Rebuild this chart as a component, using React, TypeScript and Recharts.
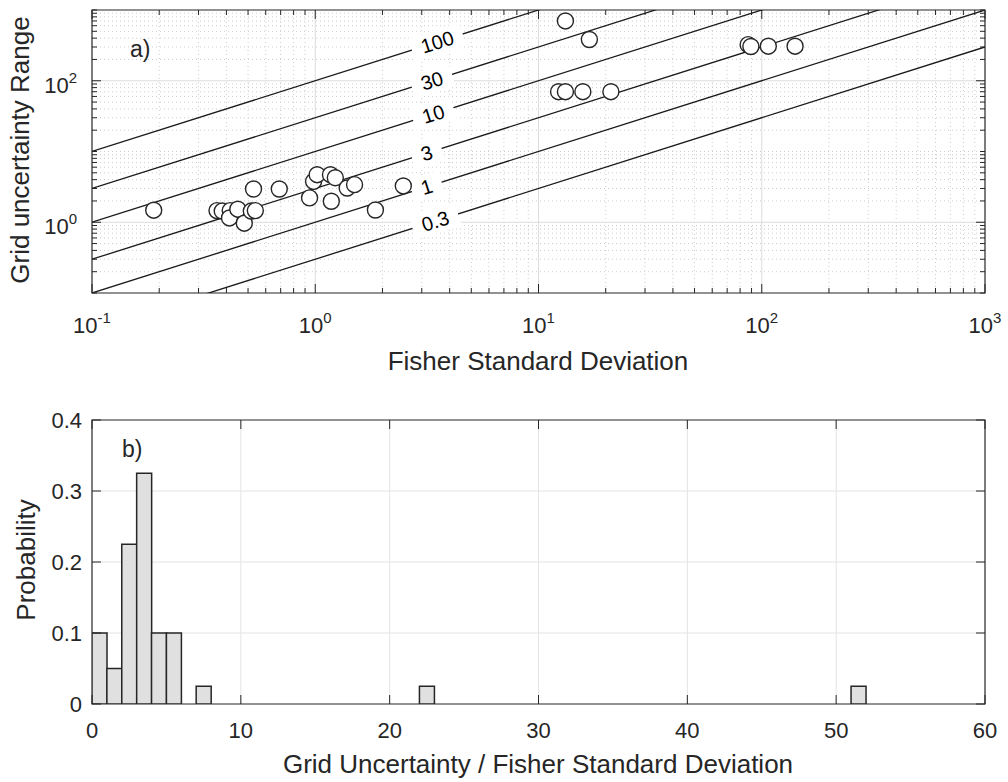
import React from 'react';
import {
  ScatterChart, Scatter, BarChart, Bar, XAxis, YAxis, CartesianGrid, ReferenceLine, ReferenceArea,
} from 'recharts';

// a) Fisher standard deviation vs grid uncertainty range (one entry per site)
const fisherSd = [0.189, 0.363, 0.383, 0.416, 0.413, 0.45, 0.481, 0.517, 0.539, 0.529, 0.69,
  0.943, 0.983, 1.02, 1.17, 1.23, 1.18, 1.39, 1.5, 1.86, 2.48,
  12.3, 13.2, 15.8, 21.1, 13.2, 16.9, 86.9, 89.4, 107, 141];
const gridRange = [1.48, 1.46, 1.44, 1.46, 1.15, 1.53, 0.97, 1.44, 1.46, 2.95, 2.95,
  2.21, 3.78, 4.7, 4.7, 4.26, 1.98, 3.05, 3.4, 1.49, 3.26,
  70, 70, 70, 70, 700, 383, 324, 305, 308, 308];

// ratio lines (range = k * sd) and where their labels sit along x
const ratioLevels = [100, 30, 10, 3, 1, 0.3];
const ratioLabels = ['100', '30', '10', '3', '1', '0.3'];
const ratioLabelAt = [3.52, 3.33, 3.38, 3.16, 3.16, 3.45];

const logDecades = [0.1, 1, 10, 100, 1000];
const logExponents = ['-1', '0', '1', '2', '3'];
const yLabelled = [1, 100];
const minorMult = [2, 3, 4, 5, 6, 7, 8, 9];

// b) histogram of range / sd
const binCenters = [0.5, 1.5, 2.5, 3.5, 4.5, 5.5, 7.5, 22.5, 51.5];
const probability = [0.1, 0.05, 0.225, 0.325, 0.1, 0.1, 0.025, 0.025, 0.025];
const ratioTicks = [0, 10, 20, 30, 40, 50, 60];
const probTicks = [0, 0.1, 0.2, 0.3, 0.4];

const FONT = '"Liberation Sans", Arial, Helvetica, sans-serif';
const AXIS = '#262626';
const LABEL_ANGLE = -17.58;

// plot box edges in chart pixels
const LEFT = 92;
const RIGHT = 985;
const A_TOP = 10;
const A_BOTTOM = 293;
const B_TOP = 45;
const B_BOTTOM = 329;

const logTicks: number[] = [];
logDecades.forEach((d, i) => {
  logTicks.push(d);
  if (i < logDecades.length - 1) minorMult.forEach(m => logTicks.push(m * d));
});
const isDecade = (v: number) => Math.abs(Math.log10(v) - Math.round(Math.log10(v))) < 1e-6;
const expOf = (v: number) => logExponents[logDecades.findIndex(d => Math.abs(d - v) / d < 1e-6)];

const xMajorGrid = [1, 10, 100];
const yMajorGrid = [1, 100];
const xMinorGrid = logTicks.filter(v => !isDecade(v));
const yMinorGrid = logTicks.filter(v => v > 0.1 && v < 1000 && !yMajorGrid.includes(v));

const scatterData = fisherSd.map((x, i) => ({ x, y: gridRange[i] }));
const labelData = ratioLevels.map((k, i) => ({ x: ratioLabelAt[i], y: k * ratioLabelAt[i], label: ratioLabels[i] }));
const histData = binCenters.map((c, i) => ({ center: c, prob: probability[i] }));

const FisherTick = (p: any) => {
  const x = p.x;
  const v = p.payload.value;
  const major = isDecade(v);
  const len = major ? 9 : 5;
  return (
    <g>
      <line x1={x} x2={x} y1={A_BOTTOM} y2={A_BOTTOM - len} stroke={AXIS} />
      <line x1={x} x2={x} y1={A_TOP} y2={A_TOP + len} stroke={AXIS} />
      {major && (
        <text x={x} y={333} textAnchor="middle" fontSize={22} fill={AXIS} fontFamily={FONT}>
          10<tspan dy={-10} fontSize={15}>{expOf(v)}</tspan>
        </text>
      )}
    </g>
  );
};

const RangeTick = (p: any) => {
  const y = p.y;
  const v = p.payload.value;
  const labelled = yLabelled.some(t => Math.abs(t - v) / t < 1e-6);
  const len = labelled ? 9 : 5;
  return (
    <g>
      <line x1={LEFT} x2={LEFT + len} y1={y} y2={y} stroke={AXIS} />
      <line x1={RIGHT} x2={RIGHT - len} y1={y} y2={y} stroke={AXIS} />
      {labelled && (
        <text x={77} y={y + 12} textAnchor="end" fontSize={22} fill={AXIS} fontFamily={FONT}>
          10<tspan dy={-10} fontSize={15}>{expOf(v)}</tspan>
        </text>
      )}
    </g>
  );
};

const RatioLabel = (p: any) => {
  const { cx, cy, payload } = p;
  const txt: string = payload.label;
  const tw = txt.split('').reduce((s, c) => s + (c === '.' ? 5.6 : 11.1), 0);
  const w = tw + 20;
  return (
    <g transform={`rotate(${LABEL_ANGLE}, ${cx}, ${cy})`}>
      <rect x={cx - w / 2} y={cy - 12} width={w} height={24} fill="#fff" />
      <text x={cx} y={cy + 7} textAnchor="middle" fontSize={20} fill="#000" fontFamily={FONT}>{txt}</text>
    </g>
  );
};

const SiteMarker = (p: any) => (
  <circle cx={p.cx} cy={p.cy} r={8} fill="#fff" stroke="#262626" strokeWidth={1.4} />
);

const HistXTick = (p: any) => {
  const x = p.x;
  return (
    <g>
      <line x1={x} x2={x} y1={B_BOTTOM} y2={B_BOTTOM - 9} stroke={AXIS} />
      <line x1={x} x2={x} y1={B_TOP} y2={B_TOP + 9} stroke={AXIS} />
      <text x={x} y={363} textAnchor="middle" fontSize={22} fill={AXIS} fontFamily={FONT}>{p.payload.value}</text>
    </g>
  );
};

const HistYTick = (p: any) => {
  const y = p.y;
  return (
    <g>
      <line x1={LEFT} x2={LEFT + 9} y1={y} y2={y} stroke={AXIS} />
      <line x1={RIGHT} x2={RIGHT - 9} y1={y} y2={y} stroke={AXIS} />
      <text x={82} y={y + 8} textAnchor="end" fontSize={22} fill={AXIS} fontFamily={FONT}>{p.payload.value}</text>
    </g>
  );
};

export default function App() {
  return (
    <div style={{ position: 'absolute', left: 0, top: 0, width: 1008, height: 782, background: '#fff' }}>
      <div style={{ position: 'absolute', left: 0, top: 0 }}>
        <ScatterChart width={1008} height={375} margin={{ top: A_TOP, right: 1008 - RIGHT, bottom: 0, left: 0 }}>
          <CartesianGrid stroke="#cdcdcd" strokeDasharray="1 3" verticalValues={xMinorGrid} horizontalValues={yMinorGrid} />
          <CartesianGrid stroke="#dcdcdc" verticalValues={xMajorGrid} horizontalValues={yMajorGrid} />
          <XAxis type="number" dataKey="x" scale="log" domain={[0.1, 1000]} allowDataOverflow ticks={logTicks}
            interval={0} height={375 - A_BOTTOM} axisLine={false} tickLine={false} tick={FisherTick} />
          <YAxis type="number" dataKey="y" scale="log" domain={[0.1, 1000]} allowDataOverflow ticks={logTicks}
            interval={0} width={LEFT} axisLine={false} tickLine={false} tick={RangeTick} />
          {ratioLevels.map(k => (
            <ReferenceLine key={k} segment={[{ x: 0.1, y: 0.1 * k }, { x: 1000, y: 1000 * k }]}
              ifOverflow="hidden" stroke="#1a1a1a" strokeWidth={1.3} />
          ))}
          <Scatter data={labelData} shape={RatioLabel} isAnimationActive={false} />
          <Scatter data={scatterData} shape={SiteMarker} isAnimationActive={false} />
          <ReferenceArea x1={0.1} x2={1000} y1={0.1} y2={1000} fill="none" stroke={AXIS} strokeWidth={1.2} />
        </ScatterChart>
      </div>
      <div style={{ position: 'absolute', left: 0, top: 375 }}>
        <BarChart width={1008} height={407} data={histData} barCategoryGap={0} barGap={0}
          margin={{ top: B_TOP, right: 1008 - RIGHT, bottom: 0, left: 0 }}>
          <CartesianGrid stroke="#e3e3e3" verticalValues={[10, 20, 30, 40, 50]} horizontalValues={[0.1, 0.2, 0.3]} />
          <XAxis type="number" dataKey="center" domain={[0, 60]} allowDataOverflow ticks={ratioTicks} interval={0}
            height={407 - B_BOTTOM} axisLine={false} tickLine={false} tick={HistXTick} />
          <YAxis type="number" domain={[0, 0.4]} allowDataOverflow ticks={probTicks} interval={0}
            width={LEFT} axisLine={false} tickLine={false} tick={HistYTick} />
          <Bar dataKey="prob" fill="#e0e0e0" stroke="#262626" strokeWidth={1.5} isAnimationActive={false} />
          <ReferenceArea x1={0} x2={60} y1={0} y2={0.4} fill="none" stroke={AXIS} strokeWidth={1.2} />
        </BarChart>
      </div>
      <svg width={1008} height={782} style={{ position: 'absolute', left: 0, top: 0, pointerEvents: 'none' }}
        fontFamily={FONT} fill={AXIS}>
        <text x={130} y={57} fontSize={23}>a)</text>
        <text x={538} y={370} fontSize={26} textAnchor="middle">Fisher Standard Deviation</text>
        <text transform="translate(29, 150) rotate(-90)" fontSize={26} textAnchor="middle">Grid uncertainty Range</text>
        <text x={122} y={457} fontSize={23}>b)</text>
        <text x={538} y={773} fontSize={26} textAnchor="middle">Grid Uncertainty / Fisher Standard Deviation</text>
        <text transform="translate(35, 560) rotate(-90)" fontSize={26} textAnchor="middle">Probability</text>
      </svg>
    </div>
  );
}
